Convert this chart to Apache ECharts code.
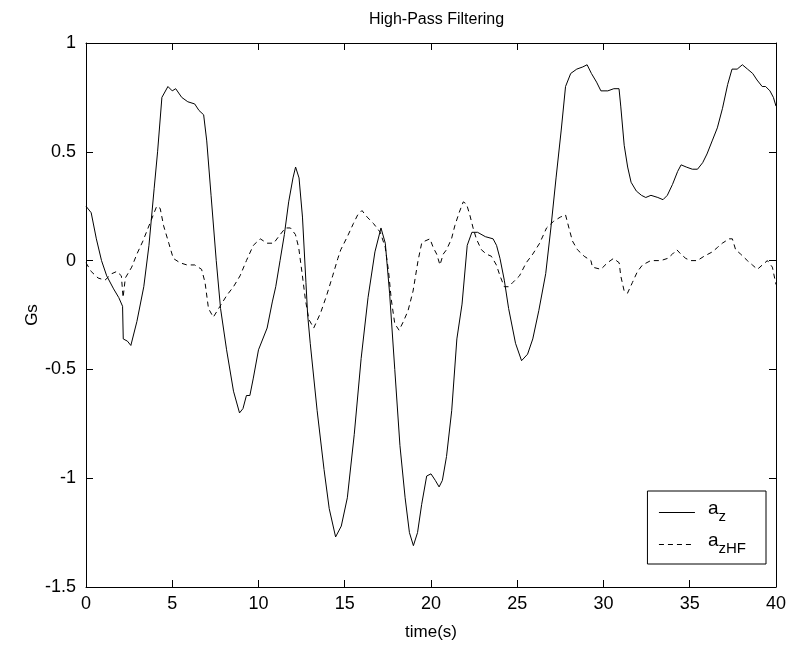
<!DOCTYPE html>
<html>
<head>
<meta charset="utf-8">
<script src="https://cdn.jsdelivr.net/npm/echarts@6/dist/echarts.min.js"></script>
<style>
html,body{margin:0;padding:0;background:#fff;}
#chart{width:789px;height:647px;}
</style>
</head>
<body>
<div id="chart"></div>
<script>
const titleText = 'High-Pass Filtering';
const xName = 'time(s)';
const yName = 'Gs';
const xTicks = [0, 5, 10, 15, 20, 25, 30, 35, 40];
const yTicks = [-1.5, -1, -0.5, 0, 0.5, 1];

const azTime = [0, 0.3, 0.6, 0.9, 1.2, 1.6, 1.9, 2.12, 2.16, 2.4, 2.6, 2.95, 3.35, 3.65, 3.95, 4.15, 4.4, 4.75, 5.0, 5.2, 5.55, 5.9, 6.3, 6.55, 6.82, 7.0, 7.25, 7.55, 7.8, 8.15, 8.55, 8.9, 9.1, 9.3, 9.5, 9.7, 10.0, 10.5, 10.8, 11.0, 11.25, 11.5, 11.75, 12.0, 12.15, 12.35, 12.55, 12.75, 12.85, 13.0, 13.4, 13.8, 14.1, 14.47, 14.8, 15.15, 15.55, 15.95, 16.35, 16.75, 17.1, 17.35, 17.6, 17.9, 18.2, 18.5, 18.75, 18.98, 19.22, 19.46, 19.75, 20.0, 20.25, 20.47, 20.66, 20.9, 21.2, 21.5, 21.8, 22.1, 22.37, 22.7, 23.15, 23.6, 23.8, 24.0, 24.25, 24.5, 24.9, 25.25, 25.6, 25.9, 26.25, 26.65, 26.95, 27.25, 27.55, 27.8, 28.1, 28.45, 28.8, 29.05, 29.3, 29.6, 29.85, 30.25, 30.6, 30.9, 31.0, 31.2, 31.4, 31.6, 31.9, 32.2, 32.45, 32.75, 33.15, 33.45, 33.7, 34.0, 34.3, 34.5, 34.8, 35.15, 35.45, 35.75, 36.0, 36.3, 36.6, 36.9, 37.2, 37.45, 37.75, 38.05, 38.35, 38.65, 38.9, 39.2, 39.4, 39.65, 39.85, 40];
const azValues = [0.25, 0.22, 0.10, 0.00, -0.07, -0.13, -0.17, -0.21, -0.36, -0.37, -0.39, -0.28, -0.12, 0.07, 0.33, 0.50, 0.75, 0.80, 0.78, 0.79, 0.75, 0.73, 0.72, 0.69, 0.67, 0.55, 0.30, 0.00, -0.22, -0.41, -0.60, -0.70, -0.68, -0.62, -0.62, -0.54, -0.41, -0.31, -0.19, -0.12, 0.00, 0.12, 0.27, 0.38, 0.43, 0.38, 0.20, -0.10, -0.25, -0.38, -0.69, -0.96, -1.14, -1.27, -1.22, -1.09, -0.80, -0.45, -0.17, 0.04, 0.15, 0.08, -0.15, -0.50, -0.85, -1.09, -1.25, -1.31, -1.25, -1.12, -0.99, -0.98, -1.01, -1.04, -1.01, -0.90, -0.69, -0.36, -0.20, 0.07, 0.13, 0.13, 0.11, 0.10, 0.07, 0.01, -0.09, -0.22, -0.38, -0.46, -0.43, -0.36, -0.23, -0.06, 0.15, 0.38, 0.60, 0.80, 0.86, 0.88, 0.89, 0.90, 0.86, 0.82, 0.78, 0.78, 0.79, 0.79, 0.71, 0.53, 0.43, 0.36, 0.32, 0.30, 0.29, 0.30, 0.29, 0.28, 0.30, 0.35, 0.41, 0.44, 0.43, 0.42, 0.42, 0.45, 0.49, 0.55, 0.61, 0.70, 0.81, 0.88, 0.88, 0.90, 0.88, 0.86, 0.83, 0.80, 0.80, 0.78, 0.75, 0.71];

const hfTime = [0, 0.3, 0.7, 1.1, 1.5, 1.78, 2.05, 2.15, 2.28, 2.65, 2.95, 3.3, 3.7, 4.1, 4.3, 4.5, 4.8, 5.06, 5.45, 5.85, 6.3, 6.7, 6.9, 7.1, 7.38, 7.77, 8.16, 8.55, 8.93, 9.3, 9.7, 10.1, 10.5, 10.88, 11.26, 11.56, 11.85, 12.14, 12.33, 12.53, 12.72, 12.92, 13.2, 13.6, 13.95, 14.3, 14.6, 14.77, 15.15, 15.5, 15.75, 16.0, 16.3, 16.67, 17.06, 17.35, 17.54, 17.7, 17.9, 18.15, 18.4, 18.67, 18.96, 19.25, 19.46, 19.65, 19.94, 20.13, 20.33, 20.52, 20.71, 20.9, 21.19, 21.38, 21.63, 21.87, 22.06, 22.25, 22.44, 22.63, 22.92, 23.21, 23.5, 23.79, 24.0, 24.25, 24.5, 24.75, 25.13, 25.52, 25.9, 26.3, 26.7, 27.1, 27.5, 27.8, 28.03, 28.2, 28.49, 28.88, 29.27, 29.36, 29.85, 30.23, 30.58, 30.91, 31.0, 31.2, 31.39, 31.68, 31.97, 32.26, 32.74, 33.32, 33.71, 34.0, 34.25, 34.48, 34.77, 35.06, 35.44, 35.83, 36.31, 36.6, 36.89, 37.28, 37.47, 37.66, 37.95, 38.34, 38.63, 38.92, 39.21, 39.5, 39.79, 40];
const hfValues = [-0.01, -0.05, -0.08, -0.09, -0.06, -0.05, -0.07, -0.17, -0.08, -0.03, 0.03, 0.09, 0.17, 0.25, 0.24, 0.16, 0.08, 0.01, -0.01, -0.02, -0.02, -0.04, -0.10, -0.22, -0.26, -0.21, -0.16, -0.12, -0.07, 0.00, 0.07, 0.10, 0.08, 0.08, 0.12, 0.15, 0.15, 0.12, 0.06, -0.06, -0.18, -0.27, -0.31, -0.24, -0.16, -0.07, 0.01, 0.05, 0.11, 0.17, 0.21, 0.23, 0.20, 0.17, 0.13, 0.06, -0.05, -0.18, -0.29, -0.32, -0.28, -0.23, -0.14, 0.00, 0.08, 0.09, 0.10, 0.06, 0.03, -0.02, 0.03, 0.05, 0.10, 0.16, 0.22, 0.27, 0.26, 0.21, 0.15, 0.10, 0.05, 0.03, 0.02, -0.02, -0.07, -0.12, -0.12, -0.10, -0.07, -0.01, 0.03, 0.08, 0.15, 0.18, 0.20, 0.21, 0.14, 0.09, 0.05, 0.02, 0.00, -0.03, -0.04, -0.01, 0.01, -0.01, -0.07, -0.14, -0.15, -0.10, -0.05, -0.02, 0.00, 0.00, 0.01, 0.03, 0.05, 0.03, 0.01, 0.00, 0.00, 0.02, 0.04, 0.06, 0.08, 0.10, 0.10, 0.05, 0.03, 0.00, -0.02, -0.04, -0.02, 0.00, -0.03, -0.11];

const FONT = '"Liberation Sans", Arial, sans-serif';
const chart = echarts.init(document.getElementById('chart'), null, {renderer: 'canvas'});

const toPairs = (ts, vs) => ts.map((t, i) => [t, vs[i]]);

const axisCommon = {
  axisLine: {show: true, onZero: false, lineStyle: {color: '#000', width: 1}},
  axisTick: {show: true, inside: true, length: 7, lineStyle: {color: '#000', width: 1}},
  splitLine: {show: false}
};

const option = {
  backgroundColor: '#fff',
  animation: false,
  title: {
    text: titleText,
    left: 431.5,
    top: 7,
    textAlign: 'center',
    textStyle: {fontFamily: FONT, fontSize: 16, fontWeight: 'normal', color: '#000'}
  },
  grid: {left: 86, right: 12, top: 43, bottom: 60, containLabel: false},
  legend: {
    orient: 'vertical',
    right: 23,
    bottom: 83,
    backgroundColor: '#fff',
    borderColor: '#000',
    borderWidth: 1,
    borderRadius: 0,
    padding: [8, 20, 8, 11],
    itemGap: 7,
    itemWidth: 36,
    itemHeight: 14,
    itemStyle: {opacity: 0, color: 'rgba(0,0,0,0)', borderWidth: 0},
    lineStyle: {width: 1, color: '#000'},
    data: ['a_z', 'a_zHF'],
    formatter: function (name) {
      return name === 'a_z' ? '{a|a}{s|z}' : '{a|a}{s|zHF}';
    },
    textStyle: {
      fontFamily: FONT, color: '#000', fontSize: 17,
      rich: {
        a: {fontFamily: FONT, fontSize: 19, color: '#000', height: 26, verticalAlign: 'top', padding: [0, 0, 6, 8]},
        s: {fontFamily: FONT, fontSize: 15, color: '#000', height: 26, verticalAlign: 'bottom', padding: [8, 0, 0, 0]}
      }
    }
  },
  xAxis: [
    Object.assign({}, axisCommon, {
      type: 'value', position: 'bottom', min: xTicks[0], max: xTicks[xTicks.length - 1], interval: 5,
      name: xName, nameLocation: 'middle', nameGap: 37, nameMoveOverlap: false,
      nameTextStyle: {fontFamily: FONT, fontSize: 17, color: '#000'},
      axisLabel: {show: true, margin: 8, fontFamily: FONT, fontSize: 18, color: '#000'}
    }),
    Object.assign({}, axisCommon, {
      type: 'value', position: 'top', min: xTicks[0], max: xTicks[xTicks.length - 1], interval: 5,
      axisLabel: {show: false}
    })
  ],
  yAxis: [
    Object.assign({}, axisCommon, {
      type: 'value', position: 'left', min: yTicks[0], max: yTicks[yTicks.length - 1], interval: 0.5,
      name: yName, nameLocation: 'middle', nameGap: 45, nameMoveOverlap: false,
      nameTextStyle: {fontFamily: FONT, fontSize: 17, color: '#000'},
      axisLabel: {show: true, margin: 10, fontFamily: FONT, fontSize: 18, color: '#000'}
    }),
    Object.assign({}, axisCommon, {
      type: 'value', position: 'right', min: yTicks[0], max: yTicks[yTicks.length - 1], interval: 0.5,
      axisLabel: {show: false}
    })
  ],
  series: [
    {
      name: 'a_z', type: 'line', xAxisIndex: 0, yAxisIndex: 0,
      data: toPairs(azTime, azValues),
      symbol: 'none', showSymbol: false, smooth: false,
      lineStyle: {color: '#000', width: 1, type: 'solid'},
      itemStyle: {color: '#000'}
    },
    {
      name: 'a_zHF', type: 'line', xAxisIndex: 0, yAxisIndex: 0,
      data: toPairs(hfTime, hfValues),
      symbol: 'none', showSymbol: false, smooth: false,
      lineStyle: {color: '#000', width: 1, type: [5, 4]},
      itemStyle: {color: '#000'}
    }
  ]
};
chart.setOption(option);
</script>
</body>
</html>
